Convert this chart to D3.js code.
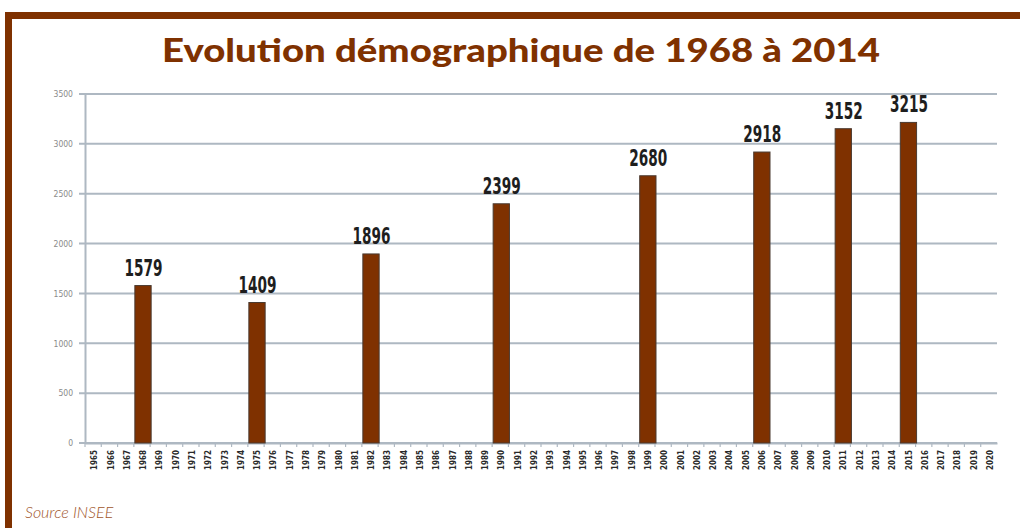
<!DOCTYPE html>
<html>
<head>
<meta charset="utf-8">
<script src="https://cdn.jsdelivr.net/npm/d3@7"></script>
<style>
  html, body { margin: 0; padding: 0; background: #fff; }
  svg { display: block; }
</style>
</head>
<body>
<svg id="chart" width="1020" height="528"></svg>
<script>
const title = "Evolution démographique de 1968 à 2014";
const source = "Source INSEE";
const years = d3.range(1965, 2021).map(String);
const barYears = ["1968", "1975", "1982", "1990", "1999", "2006", "2011", "2015"];
const barValues = [1579, 1409, 1896, 2399, 2680, 2918, 3152, 3215];
const yTicks = [0, 500, 1000, 1500, 2000, 2500, 3000, 3500];

const brown = "#7f3100";
const gridColor = "#aeb8c2";

const svg = d3.select("#chart");

// frame (top and left borders)
svg.append("rect").attr("x", 5).attr("y", 12).attr("width", 1015).attr("height", 7).attr("fill", brown);
svg.append("rect").attr("x", 5).attr("y", 12).attr("width", 7).attr("height", 516).attr("fill", brown);

// title
svg.append("text")
  .attr("x", 521).attr("y", 62)
  .attr("text-anchor", "middle")
  .attr("font-family", "Lato, 'Open Sans', sans-serif")
  .attr("font-weight", 900)
  .attr("font-size", 32)
  .attr("fill", brown)
  .attr("textLength", 718)
  .attr("lengthAdjust", "spacingAndGlyphs")
  .text(title);

const x = d3.scaleBand().domain(years).range([85, 997]).paddingInner(0).paddingOuter(0);
const y = d3.scaleLinear().domain([0, 3500]).range([443, 94]);

// gridlines
svg.append("g")
  .selectAll("line")
  .data(yTicks)
  .join("line")
  .attr("x1", 79).attr("x2", 997)
  .attr("y1", d => y(d)).attr("y2", d => y(d))
  .attr("stroke", gridColor).attr("stroke-width", 2);

// y axis
const yAxis = svg.append("g")
  .attr("transform", "translate(85,0)")
  .call(d3.axisLeft(y).tickValues(yTicks).tickSize(0).tickPadding(12).tickFormat(d3.format("d")));
yAxis.select(".domain").attr("stroke", gridColor).attr("stroke-width", 2);
yAxis.selectAll("text")
  .attr("font-family", "'DejaVu Sans Condensed', 'DejaVu Sans', sans-serif")
  .attr("font-size", 8.5)
  .attr("fill", "#8a8a8a");

// x axis
const xAxis = svg.append("g")
  .attr("transform", "translate(0,443)")
  .call(d3.axisBottom(x).tickSize(0).tickPadding(0));
xAxis.select(".domain").attr("stroke", gridColor).attr("stroke-width", 2);
xAxis.selectAll(".tick text")
  .attr("transform", "rotate(-90)")
  .attr("text-anchor", "end")
  .attr("x", -7)
  .attr("y", 1)
  .attr("dy", "0.35em")
  .attr("font-family", "'DejaVu Sans', sans-serif")
  .attr("font-weight", "bold")
  .attr("font-size", 9)
  .attr("fill", "#2a2a2a")
  .attr("textLength", 20)
  .attr("lengthAdjust", "spacingAndGlyphs");
// boundary ticks
svg.append("g")
  .selectAll("line")
  .data(years)
  .join("line")
  .attr("x1", d => x(d)).attr("x2", d => x(d))
  .attr("y1", 443).attr("y2", 447)
  .attr("stroke", gridColor).attr("stroke-width", 1.2);

// bars
const bars = barYears.map((yr, i) => ({ year: yr, value: barValues[i] }));
svg.append("g")
  .selectAll("rect")
  .data(bars)
  .join("rect")
  .attr("x", d => x(d.year) + 1)
  .attr("width", x.bandwidth())
  .attr("y", d => y(d.value))
  .attr("height", d => y(0) - y(d.value))
  .attr("fill", brown)
  .attr("stroke", "#4a3a30")
  .attr("stroke-width", 1);

// value labels
svg.append("g")
  .selectAll("text")
  .data(bars)
  .join("text")
  .attr("x", d => x(d.year) + x.bandwidth() / 2 + 1.5)
  .attr("y", d => y(d.value) - 10)
  .attr("text-anchor", "middle")
  .attr("font-family", "'DejaVu Sans', sans-serif")
  .attr("font-weight", "bold")
  .attr("font-size", 23)
  .attr("fill", "#1e1e1e")
  .attr("textLength", 38)
  .attr("lengthAdjust", "spacingAndGlyphs")
  .text(d => d.value);

// source
svg.append("text")
  .attr("x", 25).attr("y", 518)
  .attr("font-family", "Lato, 'Open Sans', sans-serif")
  .attr("font-style", "italic")
  .attr("font-weight", 300)
  .attr("font-size", 16)
  .attr("fill", "#a0552a")
  .text(source);
</script>
</body>
</html>
